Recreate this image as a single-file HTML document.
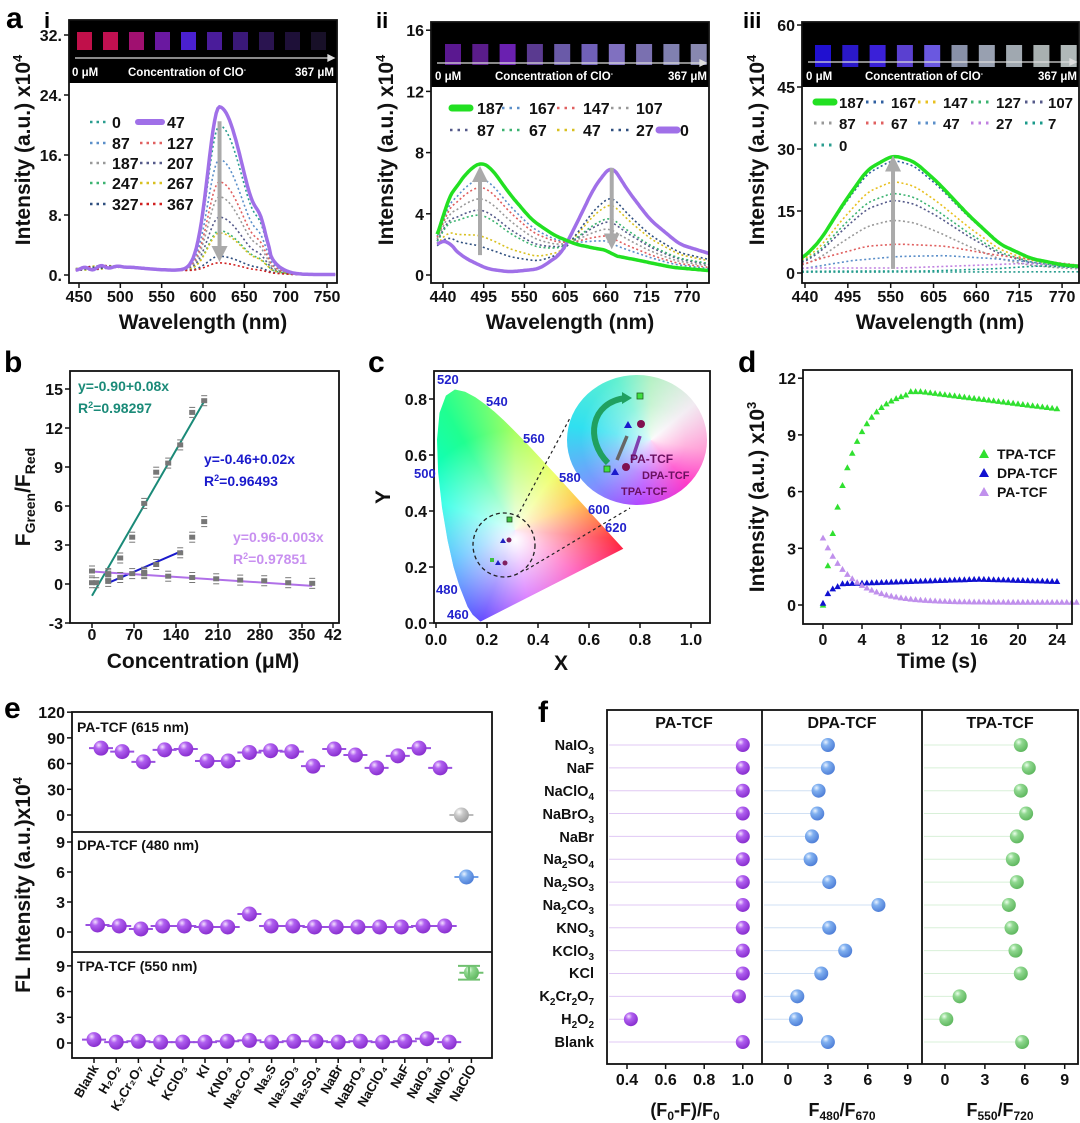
<!DOCTYPE html>
<html><head><meta charset="utf-8">
<style>
body{margin:0;background:#fff;}
#wrap{position:relative;width:1080px;height:1123px;overflow:hidden;font-family:"Liberation Sans",sans-serif;}
svg text{font-family:"Liberation Sans",sans-serif;font-weight:bold;}
.cie{position:absolute;}
</style></head><body><div id="wrap">
<div class="cie" id="cieMain" style="left:0;top:0;width:1080px;height:1123px;background:conic-gradient(from 0deg at 515px 530px,#a8ff60 0deg,#e8ff30 35deg,#ffb000 65deg,#ff2030 95deg,#ff10a0 125deg,#c020ff 170deg,#4020ff 200deg,#00a0ff 245deg,#00ffe0 290deg,#20ff90 330deg,#a8ff60 360deg);"></div>
<div class="cie" style="left:0;top:0;width:1080px;height:1123px;background:radial-gradient(circle at 515px 540px,rgba(255,255,255,1) 0px,rgba(255,255,255,.7) 30px,rgba(255,255,255,0) 110px);" id="cieWhite"></div>
<div class="cie" style="left:567px;top:375px;width:140px;height:130px;border-radius:50%;background:conic-gradient(from 0deg at 60% 50%,#b0f0c0 0deg,#f0e8f0 50deg,#ff90d0 100deg,#ff20c0 140deg,#b040ff 190deg,#8090ff 230deg,#30e0f0 280deg,#60f0d0 330deg,#b0f0c0 360deg);"></div>
<div class="cie" style="left:567px;top:375px;width:140px;height:130px;border-radius:50%;background:radial-gradient(circle at 60% 50%,rgba(255,255,255,.85) 0,rgba(255,255,255,.3) 35px,rgba(255,255,255,0) 70px);"></div>
<svg id="s" width="1080" height="1123" viewBox="0 0 1080 1123" style="position:absolute;left:0;top:0">
<defs>
<radialGradient id="sp" cx="35%" cy="30%" r="70%"><stop offset="0" stop-color="#f4e0ff"/><stop offset=".35" stop-color="#b060f0"/><stop offset="1" stop-color="#8a30d0"/></radialGradient>
<radialGradient id="sb" cx="35%" cy="30%" r="70%"><stop offset="0" stop-color="#e8f2ff"/><stop offset=".35" stop-color="#80b0f0"/><stop offset="1" stop-color="#5080d8"/></radialGradient>
<radialGradient id="sg" cx="35%" cy="30%" r="70%"><stop offset="0" stop-color="#ecffec"/><stop offset=".35" stop-color="#90d890"/><stop offset="1" stop-color="#60b860"/></radialGradient>
<radialGradient id="sgr" cx="35%" cy="30%" r="70%"><stop offset="0" stop-color="#fff"/><stop offset=".4" stop-color="#c8c8c8"/><stop offset="1" stop-color="#a0a0a0"/></radialGradient>
<clipPath id="c1"><rect x="69" y="83" width="268" height="200"/></clipPath>
<clipPath id="c2"><rect x="431" y="87" width="278" height="196"/></clipPath>
<clipPath id="c3"><rect x="802" y="87" width="277" height="196"/></clipPath>
<marker id="ah" markerWidth="4" markerHeight="4" refX="2" refY="2" orient="auto"><path d="M0,0 L4,2 L0,4z" fill="#aaa"/></marker>
</defs>

<text x="6" y="28" font-size="30">a</text>
<text x="44" y="28" font-size="22" font-weight="normal">i</text>
<text x="376" y="28" font-size="22">ii</text>
<text x="743" y="28" font-size="22">iii</text>
<text x="4" y="372" font-size="30">b</text>
<text x="368" y="372" font-size="30">c</text>
<text x="738" y="372" font-size="30">d</text>
<text x="4" y="718" font-size="30">e</text>
<text x="538" y="722" font-size="30">f</text>

<rect x="69" y="20" width="268" height="63" fill="#000"/>
<rect x="431" y="22" width="278" height="65" fill="#000"/>
<rect x="802" y="22" width="277" height="65" fill="#000"/>
<g id="cuv"></g>
<g fill="#fff" font-size="11.5">
<text x="72" y="76">0 μM</text><text x="128" y="76">Concentration of ClO<tspan dy="-4" font-size="7">-</tspan></text><text x="334" y="76" text-anchor="end">367 μM</text>
<text x="435" y="80">0 μM</text><text x="495" y="80">Concentration of ClO<tspan dy="-4" font-size="7">-</tspan></text><text x="707" y="80" text-anchor="end">367 μM</text>
<text x="806" y="80">0 μM</text><text x="865" y="80">Concentration of ClO<tspan dy="-4" font-size="7">-</tspan></text><text x="1077" y="80" text-anchor="end">367 μM</text>
</g>
<g stroke="#ddd" stroke-width="1.3" fill="#ddd">
<line x1="75" y1="58" x2="328" y2="58"/><path d="M328,55 L334,58 L328,61z"/>
<line x1="437" y1="63" x2="700" y2="63"/><path d="M700,60 L706,63 L700,66z"/>
<line x1="808" y1="62" x2="1070" y2="62"/><path d="M1070,59 L1076,62 L1070,65z"/>
</g>

<g id="curves"></g>

<g fill="none" stroke="#111" stroke-width="1.8">
<rect x="69" y="20" width="268" height="263"/>
<rect x="431" y="22" width="278" height="261"/>
<rect x="802" y="22" width="277" height="261"/>
<rect x="70" y="371" width="269" height="252"/>
<rect x="434" y="371" width="276" height="252"/>
<rect x="803" y="370" width="269" height="254"/>
<rect x="72" y="712" width="420" height="346"/>
<line x1="72" y1="832" x2="492" y2="832"/><line x1="72" y1="952" x2="492" y2="952"/>
<rect x="607" y="710" width="471" height="354"/>
<line x1="762" y1="710" x2="762" y2="1064"/><line x1="922" y1="710" x2="922" y2="1064"/>
</g>
<g id="ticks" stroke="#111" stroke-width="1.5"></g>
<g id="tl" font-size="16" fill="#111"></g>

<g font-size="21" fill="#111">
<text transform="translate(30,150) rotate(-90)" text-anchor="middle">Intensity (a.u.) x10<tspan dy="-8" font-size="13">4</tspan></text>
<text transform="translate(393,150) rotate(-90)" text-anchor="middle">Intensity (a.u.) x10<tspan dy="-8" font-size="13">4</tspan></text>
<text transform="translate(764,150) rotate(-90)" text-anchor="middle">Intensity (a.u.) x10<tspan dy="-8" font-size="13">4</tspan></text>
<text x="203" y="329" text-anchor="middle">Wavelength (nm)</text>
<text x="570" y="329" text-anchor="middle">Wavelength (nm)</text>
<text x="940" y="329" text-anchor="middle">Wavelength (nm)</text>
<text transform="translate(30,497) rotate(-90)" text-anchor="middle">F<tspan dy="5" font-size="14">Green</tspan><tspan dy="-5">/F</tspan><tspan dy="5" font-size="14">Red</tspan></text>
<text transform="translate(390,497) rotate(-90)" text-anchor="middle">Y</text>
<text transform="translate(764,497) rotate(-90)" text-anchor="middle">Intensity (a.u.) x10<tspan dy="-8" font-size="13">3</tspan></text>
<text x="203" y="668" text-anchor="middle">Concentration (μM)</text>
<text x="561" y="670" text-anchor="middle">X</text>
<text x="937" y="668" text-anchor="middle">Time (s)</text>
<text transform="translate(30,885) rotate(-90)" text-anchor="middle">FL Intensity (a.u.)x10<tspan dy="-8" font-size="13">4</tspan></text>
<text x="685" y="1116" text-anchor="middle" font-size="18">(F<tspan dy="4" font-size="12">0</tspan><tspan dy="-4">-F)/F</tspan><tspan dy="4" font-size="12">0</tspan></text>
<text x="842" y="1116" text-anchor="middle" font-size="18">F<tspan dy="4" font-size="12">480</tspan><tspan dy="-4">/F</tspan><tspan dy="4" font-size="12">670</tspan></text>
<text x="1000" y="1116" text-anchor="middle" font-size="18">F<tspan dy="4" font-size="12">550</tspan><tspan dy="-4">/F</tspan><tspan dy="4" font-size="12">720</tspan></text>
</g>

<g font-size="16" fill="#111">
<text x="112" y="128">0</text><text x="167" y="128">47</text>
<text x="112" y="149">87</text><text x="167" y="149">127</text>
<text x="112" y="169">187</text><text x="167" y="169">207</text>
<text x="112" y="189">247</text><text x="167" y="189">267</text>
<text x="112" y="210">327</text><text x="167" y="210">367</text>
<text x="477" y="114">187</text><text x="529" y="114">167</text><text x="583" y="114">147</text><text x="636" y="114">107</text>
<text x="477" y="136">87</text><text x="529" y="136">67</text><text x="583" y="136">47</text><text x="636" y="136">27</text><text x="680" y="136">0</text>
<g font-size="15"><text x="839" y="108">187</text><text x="891" y="108">167</text><text x="943" y="108">147</text><text x="996" y="108">127</text><text x="1048" y="108">107</text>
<text x="839" y="129">87</text><text x="891" y="129">67</text><text x="943" y="129">47</text><text x="996" y="129">27</text><text x="1048" y="129">7</text>
<text x="839" y="151">0</text></g>
</g>
<g id="leg"></g>

<g font-size="14">
<text x="78" y="391" fill="#1a8a78">y=-0.90+0.08x</text>
<text x="78" y="413" fill="#1a8a78">R<tspan dy="-5" font-size="9">2</tspan><tspan dy="5">=0.98297</tspan></text>
<text x="204" y="464" fill="#1a1acc">y=-0.46+0.02x</text>
<text x="204" y="486" fill="#1a1acc">R<tspan dy="-5" font-size="9">2</tspan><tspan dy="5">=0.96493</tspan></text>
<text x="233" y="542" fill="#c890f0">y=0.96-0.003x</text>
<text x="233" y="564" fill="#c890f0">R<tspan dy="-5" font-size="9">2</tspan><tspan dy="5">=0.97851</tspan></text>
</g>
<g font-size="13" fill="#2222cc">
<text x="437" y="384">520</text><text x="486" y="406">540</text><text x="523" y="443">560</text>
<text x="414" y="478">500</text><text x="559" y="482">580</text><text x="588" y="514">600</text><text x="605" y="532">620</text>
<text x="436" y="594">480</text><text x="447" y="619">460</text>
</g>
<g id="cextra"></g>
<g font-size="12" fill="#6a1060">
<text x="630" y="463">PA-TCF</text><text x="642" y="479" font-size="11">DPA-TCF</text><text x="621" y="495" font-size="11">TPA-TCF</text>
</g>
<g font-size="14" fill="#111">
<text x="997" y="459">TPA-TCF</text><text x="997" y="478">DPA-TCF</text><text x="997" y="497">PA-TCF</text>
</g>
<g font-size="14" fill="#111">
<text x="77" y="732">PA-TCF (615 nm)</text><text x="77" y="850">DPA-TCF (480 nm)</text><text x="77" y="971">TPA-TCF (550 nm)</text>
</g>
<g id="ex" font-size="13" fill="#111"></g>
<g font-size="16" fill="#111">
<text x="684" y="728" text-anchor="middle">PA-TCF</text><text x="842" y="728" text-anchor="middle">DPA-TCF</text><text x="1000" y="728" text-anchor="middle">TPA-TCF</text>
</g>
<g id="fl" font-size="14.5" fill="#111" text-anchor="end">
<text x="594" y="750">NaIO<tspan dy="4" font-size="10">3</tspan></text>
<text x="594" y="773">NaF</text>
<text x="594" y="796">NaClO<tspan dy="4" font-size="10">4</tspan></text>
<text x="594" y="819">NaBrO<tspan dy="4" font-size="10">3</tspan></text>
<text x="594" y="842">NaBr</text>
<text x="594" y="864">Na<tspan dy="4" font-size="10">2</tspan><tspan dy="-4">SO</tspan><tspan dy="4" font-size="10">4</tspan></text>
<text x="594" y="887">Na<tspan dy="4" font-size="10">2</tspan><tspan dy="-4">SO</tspan><tspan dy="4" font-size="10">3</tspan></text>
<text x="594" y="910">Na<tspan dy="4" font-size="10">2</tspan><tspan dy="-4">CO</tspan><tspan dy="4" font-size="10">3</tspan></text>
<text x="594" y="933">KNO<tspan dy="4" font-size="10">3</tspan></text>
<text x="594" y="956">KClO<tspan dy="4" font-size="10">3</tspan></text>
<text x="594" y="978">KCl</text>
<text x="594" y="1001">K<tspan dy="4" font-size="10">2</tspan><tspan dy="-4">Cr</tspan><tspan dy="4" font-size="10">2</tspan><tspan dy="-4">O</tspan><tspan dy="4" font-size="10">7</tspan></text>
<text x="594" y="1024">H<tspan dy="4" font-size="10">2</tspan><tspan dy="-4">O</tspan><tspan dy="4" font-size="10">2</tspan></text>
<text x="594" y="1047">Blank</text>
</g>
<g id="fx"></g>
</svg>
</div>
<script>
(function(){
var NS="http://www.w3.org/2000/svg";
function el(p,tag,a,txt){var e=document.createElementNS(NS,tag);for(var k in a)e.setAttribute(k,a[k]);if(txt!=null)e.textContent=txt;document.getElementById(p).appendChild(e);return e;}
function lin(keys,x){if(x<=keys[0][0])return keys[0][1];for(var i=1;i<keys.length;i++){if(x<=keys[i][0]){var a=keys[i-1],b=keys[i],t=(x-a[0])/(b[0]-a[0]);return a[1]+(b[1]-a[1])*t;}}return keys[keys.length-1][1];}
function interp(keys,x){var s=0,n=0;for(var k=-8;k<=8;k+=2){s+=lin(keys,x+k);n++;}return s/n;}
function path(f,x0,x1,X,Y){var d="";for(var l=x0;l<=x1;l+=2){d+=(d?"L":"M")+X(l).toFixed(1)+","+Y(f(l)).toFixed(1);}return d;}
var cx=function(v){return 436+v*255},cy=function(v){return 623-v*280};
var loc=[[.1741,.005],[.144,.0297],[.124,.0578],[.0913,.1327],[.0687,.2007],[.0454,.295],[.0235,.4127],[.0082,.5384],[.0039,.6548],[.0139,.7502],[.0389,.812],[.0743,.8338],[.1142,.8262],[.1547,.8059],[.1929,.7816],[.2296,.7543],[.2658,.7243],[.3016,.6923],[.3373,.6589],[.3731,.6245],[.4087,.5896],[.4441,.5547],[.4788,.5202],[.5125,.4866],[.5448,.4544],[.5752,.4242],[.6029,.3965],[.627,.3725],[.6482,.3514],[.6658,.334],[.6915,.3083],[.7347,.2653]];
var poly=loc.map(function(p){return cx(p[0]).toFixed(1)+"px "+cy(p[1]).toFixed(1)+"px"}).join(",");
document.getElementById("cieMain").style.clipPath="polygon("+poly+")";
document.getElementById("cieWhite").style.clipPath="polygon("+poly+")";
var c1=["#c0104a","#c01050","#a01070","#6a18a0","#4a20d0","#4a1c9a","#3a1878","#2a1450","#1e1038","#181028"];
var c2=["#5a1890","#5a1c8a","#6a20b0","#5a3a90","#6a5aa8","#7060b8","#8070c0","#7a70b0","#8080b0","#8888b0"];
var c3=["#2010d0","#2a18c8","#3a20d8","#5a40d0","#6a58e0","#8890a8","#98a0b0","#a0a8b0","#a8b0b0","#b0b8b8"];
for(var i=0;i<10;i++){el("cuv","rect",{x:77+i*26,y:32,width:15,height:18,fill:c1[i]});el("cuv","rect",{x:445+i*27.3,y:44,width:16,height:21,fill:c2[i]});el("cuv","rect",{x:815+i*27.3,y:45,width:16,height:22,fill:c3[i]});}
var X1=function(l){return 79+(l-450)*0.8267},Y1=function(v){return 275-v*7.5};
function fi(A,k){return function(l){var m=A*(l<620?Math.exp(-Math.pow((l-620)/20,2)):Math.exp(-Math.pow((l-620)/42,2)))+A*0.1*Math.exp(-Math.pow((l-670)/9,2));if(l>680)m*=0.85;var b=0.6+0.5*Math.exp(-Math.pow((l-495)/45,2))+0.25*Math.sin(l*0.3+k)*Math.exp(-Math.pow((l-470)/25,2));if(l>575)b*=Math.max(0.1,1-(l-575)/150);return m+b;}}
var si=[["0",19.5,"#2a9d8f"],["87",15,"#5b8fc9"],["127",12,"#e06060"],["187",10,"#999"],["207",7.3,"#555a8a"],["247",5.5,"#3cb371"],["267",5.2,"#d8c020"],["327",2.1,"#2f4f7f"],["367",1.2,"#d02020"]];
si.forEach(function(s,k){el("curves","path",{d:path(fi(s[1],k),446,760,X1,Y1),fill:"none",stroke:s[2],"stroke-width":1.6,"stroke-dasharray":"2,2.5","clip-path":"url(#c1)"});});
el("curves","path",{d:path(fi(22,3),446,760,X1,Y1),fill:"none",stroke:"#a070e8","stroke-width":3.5,"clip-path":"url(#c1)"});
el("curves","line",{x1:X1(620),y1:Y1(20.5),x2:X1(620),y2:Y1(2.8),stroke:"#aaa","stroke-width":4,"marker-end":"url(#ah)"});
var li=[[122,"#2a9d8f"],[143,"#5b8fc9"],[163,"#999"],[183,"#3cb371"],[204,"#2f4f7f"]],li2=[[143,"#e06060"],[163,"#555a8a"],[183,"#d8c020"],[204,"#d02020"]];
li.forEach(function(r){el("leg","line",{x1:90,y1:r[0],x2:108,y2:r[0],stroke:r[1],"stroke-width":2.5,"stroke-dasharray":"2.5,4"});});
li2.forEach(function(r){el("leg","line",{x1:140,y1:r[0],x2:162,y2:r[0],stroke:r[1],"stroke-width":2.5,"stroke-dasharray":"2.5,4"});});
el("leg","line",{x1:138,y1:122,x2:162,y2:122,stroke:"#a070e8","stroke-width":6,"stroke-linecap":"round"});
var X2=function(l){return 443+(l-440)*0.74},Y2=function(v){return 275-v*15.3};
var G2=[[424,2],[432,2.5],[440,3.6],[445,5],[455,5.5],[470,6.6],[490,7.4],[505,7],[530,5.3],[560,3.6],[590,2.6],[620,2.0],[650,1.7],[665,1.6],[668,1.3],[700,1.0],[750,0.5],[820,0.2]];
var P2=[[424,1.9],[432,2],[440,2.2],[447,2.4],[452,1.8],[470,1.1],[500,0.4],[530,0.2],[570,0.4],[600,1.4],[620,3.3],[645,5.8],[668,7.2],[690,5.5],[720,3.6],[760,2],[820,1.1]];
var s2=[[0.85,"#5b8fc9"],[0.77,"#e06060"],[0.66,"#999"],[0.55,"#555a8a"],[0.5,"#3cb371"],[0.3,"#d8c020"],[0.2,"#2f4f7f"]];
s2.forEach(function(s){var t=s[0];el("curves","path",{d:path(function(l){return t*interp(G2,l)+(1-t)*interp(P2,l)*0.85;},432,812,X2,Y2),fill:"none",stroke:s[1],"stroke-width":1.6,"stroke-dasharray":"2,2.5","clip-path":"url(#c2)"});});
el("curves","path",{d:path(function(l){return interp(P2,l)},432,812,X2,Y2),fill:"none",stroke:"#a070e8","stroke-width":3.5,"clip-path":"url(#c2)"});
el("curves","path",{d:path(function(l){return interp(G2,l)},432,812,X2,Y2),fill:"none",stroke:"#22e022","stroke-width":3.5,"clip-path":"url(#c2)"});
el("curves","line",{x1:X2(490),y1:Y2(1.3),x2:X2(490),y2:Y2(6.6),stroke:"#aaa","stroke-width":4,"marker-end":"url(#ah)"});
el("curves","line",{x1:X2(668),y1:Y2(7),x2:X2(668),y2:Y2(2.2),stroke:"#aaa","stroke-width":4,"marker-end":"url(#ah)"});
var l2=[[450,108,"#22e022",1],[502,108,"#5b8fc9"],[557,108,"#e06060"],[611,108,"#999"],[450,130,"#555a8a"],[502,130,"#3cb371"],[557,130,"#d8c020"],[611,130,"#2f4f7f"],[657,130,"#a070e8",1]];
l2.forEach(function(r){if(r[3])el("leg","line",{x1:r[0]+2,y1:r[1],x2:r[0]+20,y2:r[1],stroke:r[2],"stroke-width":7,"stroke-linecap":"round"});else el("leg","line",{x1:r[0],y1:r[1],x2:r[0]+22,y2:r[1],stroke:r[2],"stroke-width":2.5,"stroke-dasharray":"2.5,5"});});
var X3=function(l){return 805+(l-440)*0.779},Y3=function(v){return 273-v*4.133};
var G3=[[426,3],[436,3.5],[445,5],[460,8],[490,17],[520,25],[553,28.5],[580,27],[610,22],[650,14],[690,7],[730,3.5],[770,2],[810,1.3]];
var s3=[[0.95,"#2f5fa0"],[0.77,"#e8c020"],[0.67,"#3cb371"],[0.61,"#555a8a"],[0.44,"#999"]];
s3.forEach(function(s){el("curves","path",{d:path(function(l){return s[0]*interp(G3,l)+0.3},436,800,X3,Y3),fill:"none",stroke:s[1],"stroke-width":1.6,"stroke-dasharray":"2,2.5","clip-path":"url(#c3)"});});
var e67=[[426,2],[436,2],[460,3.5],[520,6.5],[560,7],[620,6.5],[680,4.5],[740,3],[810,1.5]];
var e47=[[426,1],[436,1],[500,3],[560,4],[620,4.2],[680,3.5],[740,2.5],[810,1.5]];
var e27=[[426,1.2],[560,1.2],[650,1.8],[720,2.3],[810,1.6]];
var e7=[[426,0.4],[600,0.5],[680,1],[740,1.7],[810,1.2]];
var e0=[[426,0.2],[810,0.3]];
[[e67,"#e06060"],[e47,"#5b8fc9"],[e27,"#c080e0"],[e7,"#1a9a8a"],[e0,"#2a9d8f"]].forEach(function(s){el("curves","path",{d:path(function(l){return interp(s[0],l)},436,800,X3,Y3),fill:"none",stroke:s[1],"stroke-width":1.6,"stroke-dasharray":"2,2.5","clip-path":"url(#c3)"});});
el("curves","path",{d:path(function(l){return interp(G3,l)},436,800,X3,Y3),fill:"none",stroke:"#22e022","stroke-width":3.5,"clip-path":"url(#c3)"});
el("curves","line",{x1:X3(553),y1:Y3(1),x2:X3(553),y2:Y3(26.5),stroke:"#aaa","stroke-width":4,"marker-end":"url(#ah)"});
var l3=[[814,102,"#22e022",1],[866,102,"#2f5fa0"],[918,102,"#e8c020"],[971,102,"#3cb371"],[1025,102,"#555a8a"],[814,123,"#999"],[866,123,"#e06060"],[918,123,"#5b8fc9"],[971,123,"#c080e0"],[1025,123,"#1a9a8a"],[814,145,"#2a9d8f"]];
l3.forEach(function(r){if(r[3])el("leg","line",{x1:r[0]+2,y1:r[1],x2:r[0]+20,y2:r[1],stroke:r[2],"stroke-width":7,"stroke-linecap":"round"});else el("leg","line",{x1:r[0],y1:r[1],x2:r[0]+20,y2:r[1],stroke:r[2],"stroke-width":3,"stroke-dasharray":"2.5,5"});});
function yt(xAxis,vals,Y,fmt){vals.forEach(function(v){var y=Y(v);el("ticks","line",{x1:xAxis-5,y1:y,x2:xAxis,y2:y});el("tl","text",{x:xAxis-7,y:y+6,"text-anchor":"end"},fmt?fmt(v):v);});}
function xt(yAxis,vals,X,fmt,ly){vals.forEach(function(v){var x=X(v);el("ticks","line",{x1:x,y1:yAxis,x2:x,y2:yAxis+5});el("tl","text",{x:x,y:ly,"text-anchor":"middle"},fmt?fmt(v):v);});}
yt(69,[0,8,16,24,32],Y1,function(v){return v==0?"0.":v+"."});xt(283,[450,500,550,600,650,700,750],X1,null,302);
yt(431,[0,4,8,12,16],Y2);xt(283,[440,495,550,605,660,715,770],X2,null,302);
yt(802,[0,15,30,45,60],Y3);xt(283,[440,495,550,605,660,715,770],X3,null,302);
var Xb=function(v){return 92+v*0.6},Yb=function(v){return 584-v*13};
yt(70,[-3,0,3,6,9,12,15],Yb);xt(623,[0,70,140,210,280,350,420],function(v){return v==420?333:Xb(v)},function(v){return v==420?"42":v},640);
el("curves","line",{x1:Xb(0),y1:Yb(-0.9),x2:Xb(187),y2:Yb(14.06),stroke:"#1a8a78","stroke-width":2});
el("curves","line",{x1:Xb(27),y1:Yb(0.08),x2:Xb(150),y2:Yb(2.54),stroke:"#1a1acc","stroke-width":2});
el("curves","line",{x1:Xb(0),y1:Yb(0.96),x2:Xb(367),y2:Yb(-0.14),stroke:"#b070e8","stroke-width":2});
var pb=[[0,0.1],[7,0.1],[27,0.7],[47,2],[67,3.6],[87,6.2],[107,8.6],[127,9.3],[147,10.7],[167,13.2],[187,14.1],[27,0.2],[47,0.5],[67,0.8],[87,0.9],[107,1.5],[147,2.4],[167,3.6],[187,4.8],[0,1],[27,0.8],[87,0.8],[127,0.6],[167,0.5],[207,0.4],[247,0.3],[287,0.25],[327,0.1],[367,0.05]];
pb.forEach(function(p){var x=Xb(p[0]),y=Yb(p[1]);el("curves","rect",{x:x-3,y:y-2.5,width:6,height:5,fill:"#777"});el("curves","line",{x1:x-3,y1:y-5,x2:x+3,y2:y-5,stroke:"#777","stroke-width":1});el("curves","line",{x1:x-3,y1:y+5,x2:x+3,y2:y+5,stroke:"#777","stroke-width":1});});
yt(434,[0,0.2,0.4,0.6,0.8],cy,function(v){return v.toFixed(1)});xt(623,[0,0.2,0.4,0.6,0.8,1.0],cx,function(v){return v.toFixed(1)},645);
el("cextra","ellipse",{cx:504,cy:545,rx:31,ry:32,fill:"none",stroke:"#222","stroke-width":1.3,"stroke-dasharray":"4,3"});
el("cextra","line",{x1:517,y1:517,x2:570,y2:418,stroke:"#222","stroke-width":1.2,"stroke-dasharray":"3,3"});
el("cextra","line",{x1:526,y1:570,x2:630,y2:508,stroke:"#222","stroke-width":1.2,"stroke-dasharray":"3,3"});
el("cextra","rect",{x:507,y:517,width:5,height:5,fill:"#40c040",stroke:"#205020","stroke-width":.8});
el("cextra","path",{d:"M500,543 l3,-5 l3,5z",fill:"#2020c0"});el("cextra","circle",{cx:509,cy:540,r:2.5,fill:"#802060"});
el("cextra","path",{d:"M495,565 l3,-5 l3,5z",fill:"#2020c0"});el("cextra","circle",{cx:505,cy:563,r:2.5,fill:"#802060"});el("cextra","rect",{x:490,y:558,width:4,height:4,fill:"#40c040"});
el("cextra","path",{d:"M608,463 C585,440 590,402 626,398",fill:"none",stroke:"#20a060","stroke-width":6});
el("cextra","path",{d:"M622,392 l10,6 l-10,6z",fill:"#20a060"});
el("cextra","rect",{x:637,y:393,width:6,height:6,fill:"#40e040",stroke:"#206020","stroke-width":.8});
el("cextra","path",{d:"M624,428 l4,-7 l4,7z",fill:"#1a1acc"});el("cextra","circle",{cx:641,cy:424,r:4,fill:"#801050"});
el("cextra","line",{x1:617,y1:460,x2:627,y2:436,stroke:"#666","stroke-width":3.5});
el("cextra","line",{x1:632,y1:460,x2:640,y2:436,stroke:"#8040b0","stroke-width":3.5});
el("cextra","rect",{x:604,y:466,width:6,height:6,fill:"#40e040",stroke:"#206020","stroke-width":.8});
el("cextra","path",{d:"M611,475 l4,-7 l4,7z",fill:"#1a1acc"});el("cextra","circle",{cx:626,cy:467,r:4,fill:"#801050"});
var Xd=function(v){return 823+v*9.75},Yd=function(v){return 605-v*18.9};
yt(803,[0,3,6,9,12],Yd);xt(624,[0,4,8,12,16,20,24],Xd,null,645);
function tri(x,y,c,s){el("curves","path",{d:"M"+(x-s)+","+(y+s*0.8)+"L"+x+","+(y-s)+"L"+(x+s)+","+(y+s*0.8)+"z",fill:c});}
for(var t=0;t<=24.01;t+=0.5){var g=t<9?11.5*(1-Math.exp(-t/2.5)):11.3-Math.max(0,t-10)*0.065;if(t<9&&g>11.25)g=11.25;tri(Xd(t),Yd(g),"#30e030",3.3);
var b=t<2?1.0*(1-Math.exp(-t/0.7)):(1.0+Math.min(t,16)*0.017-Math.max(0,t-16)*0.015);tri(Xd(t),Yd(b+0.1),"#1010d0",3.3);}
for(var t=0;t<=26.01;t+=0.5){tri(Xd(t),Yd(3.4*Math.exp(-t/3)+0.15),"#c090ec",3.3);}
tri(984,454,"#30e030",5);tri(984,473,"#1010d0",5);tri(984,492,"#c090ec",5);
var Ye1=function(v){return 815-v*0.857},Ye2=function(v){return 932-v*10},Ye3=function(v){return 1043-v*8.57};
yt(72,[0,30,60,90,120],Ye1);yt(72,[0,3,6,9],Ye2);yt(72,[0,3,6,9],Ye3);
var v1=[78,74,62,76,77,63,63,73,75,74,57,77,70,55,69,78,55,0],v2=[.7,.6,.3,.6,.6,.5,.5,1.8,.6,.6,.5,.5,.5,.5,.5,.6,.6,5.5],v3=[.4,.1,.2,.1,.1,.1,.2,.3,.1,.2,.2,.1,.2,.1,.2,.5,.1,8.2];
var names=["Blank","H₂O₂","K₂Cr₂O₇","KCl","KClO₃","KI","KNO₃","Na₂CO₃","Na₂S","Na₂SO₃","Na₂SO₄","NaBr","NaBrO₃","NaClO₄","NaF","NaIO₃","NaNO₂","NaClO"];
for(var i=0;i<18;i++){var x1=101+i*21.2,x3=94+i*22.2,x2=(x1+x3)/2;
 var last=i==17;
 [[x1,Ye1(v1[i]),last?"url(#sgr)":"url(#sp)",last?"#bbb":"#9a50e0"],[x2,Ye2(v2[i]),last?"url(#sb)":"url(#sp)",last?"#70a0e8":"#9a50e0"],[x3,Ye3(v3[i]),last?"url(#sg)":"url(#sp)",last?"#70c070":"#9a50e0"]].forEach(function(p){el("curves","line",{x1:p[0]-12,y1:p[1],x2:p[0]+12,y2:p[1],stroke:p[3],"stroke-width":2});el("curves","circle",{cx:p[0],cy:p[1],r:7.5,fill:p[2]});});
 el("ticks","line",{x1:x3,y1:1058,x2:x3,y2:1063});
 el("ex","text",{x:0,y:0,"text-anchor":"end",transform:"translate("+(x3+5)+",1068) rotate(-60)"},names[i]);}
el("curves","line",{x1:469-11,y1:Ye3(9),x2:469+11,y2:Ye3(9),stroke:"#70c070","stroke-width":2});
el("curves","line",{x1:469-11,y1:Ye3(7.4),x2:469+11,y2:Ye3(7.4),stroke:"#70c070","stroke-width":2});
el("curves","line",{x1:469,y1:Ye3(9),x2:469,y2:Ye3(7.4),stroke:"#70c070","stroke-width":2});
var Xp=function(v){return 627+(v-0.4)*193},Xdp=function(v){return 788+v*13.3},Xt=function(v){return 945+v*13.3};
xt(1064,[0.4,0.6,0.8,1.0],Xp,function(v){return v.toFixed(1)},1085);xt(1064,[0,3,6,9],Xdp,null,1085);xt(1064,[0,3,6,9],Xt,null,1085);
var fp=[1,1,1,1,1,1,1,1,1,1,1,.98,.42,1],fd=[3,3,2.3,2.2,1.8,1.7,3.1,6.8,3.1,4.3,2.5,.7,.6,3],ft=[5.7,6.3,5.7,6.1,5.4,5.1,5.4,4.8,5.0,5.3,5.7,1.1,.1,5.8];
for(var i=0;i<14;i++){var y=745+i*22.85;
 el("fx","line",{x1:609,y1:y,x2:Math.max(Xp(fp[i]),609),y2:y,stroke:"#e0c8f4","stroke-width":1});
 el("fx","line",{x1:764,y1:y,x2:Xdp(fd[i]),y2:y,stroke:"#d0e0f4","stroke-width":1});
 el("fx","line",{x1:924,y1:y,x2:Xt(ft[i]),y2:y,stroke:"#d8f0d8","stroke-width":1});
 el("fx","circle",{cx:Xp(fp[i]),cy:y,r:7,fill:"url(#sp)"});el("fx","circle",{cx:Xdp(fd[i]),cy:y,r:7,fill:"url(#sb)"});el("fx","circle",{cx:Xt(ft[i]),cy:y,r:7,fill:"url(#sg)"});}
})();
</script>
</body></html>
